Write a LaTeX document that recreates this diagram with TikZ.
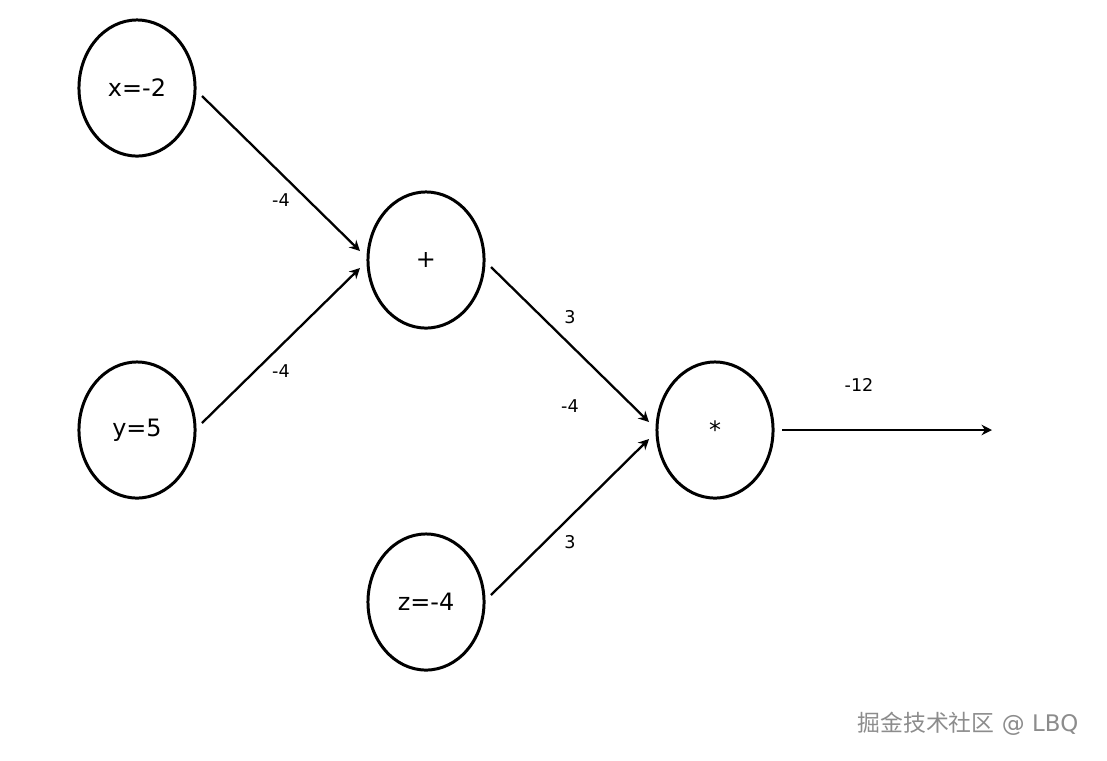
\documentclass[tikz,border=0pt]{standalone}
\usepackage{fontspec}
\setmainfont{DejaVu Sans}
\newfontfamily\cjk{Noto Sans CJK SC}
\usetikzlibrary{shapes.geometric,arrows.meta}
\begin{document}
\begin{tikzpicture}[x=0.01cm,y=-0.01cm,
  op/.style={ellipse,draw,line width=0.85pt,minimum width=1.16cm,minimum height=1.36cm,inner sep=0pt,font=\fontsize{6.8}{8}\selectfont},
  conn/.style={line width=0.65pt,-{Stealth[length=3pt,width=3pt,inset=1pt]}},
  lbl/.style={font=\fontsize{5}{6}\selectfont}]
\useasboundingbox (0,0) rectangle (1107,760);
\node[op] (x) at (137,88) {x=-2};
\node[op] (y) at (137,430) {y=5};
\node[op] (plus) at (426,260) {+};
\node[op] (z) at (426,602) {z=-4};
\node[op] (mul) at (715,430) {*};
\coordinate (xo) at (202,96); \coordinate (pi1) at (360,251);
\coordinate (yo) at (202,423); \coordinate (pi2) at (360,268);
\coordinate (po) at (491,267); \coordinate (mi1) at (649,422);
\coordinate (zo) at (491,595); \coordinate (mi2) at (649,439);
\coordinate (mo) at (782,430); \coordinate (out) at (992,430);
\draw[conn] (xo) -- (pi1);
\draw[conn] (yo) -- (pi2);
\draw[conn] (po) -- (mi1);
\draw[conn] (zo) -- (mi2);
\draw[conn] (mo) -- (out);
\node[lbl] (l1) at (281,200) {-4};
\node[lbl] (l2) at (281,371) {-4};
\node[lbl] (l3) at (570,317) {3};
\node[lbl] (l4) at (570,406) {-4};
\node[lbl] (l5) at (570,542) {3};
\node[lbl] (l6) at (859,385) {-12};
\node[text=gray!90,font=\fontsize{6.5}{8}\selectfont] (wm) at (968,724) {{\cjk 掘金技术社区} @ LBQ};
\end{tikzpicture}
\end{document}
